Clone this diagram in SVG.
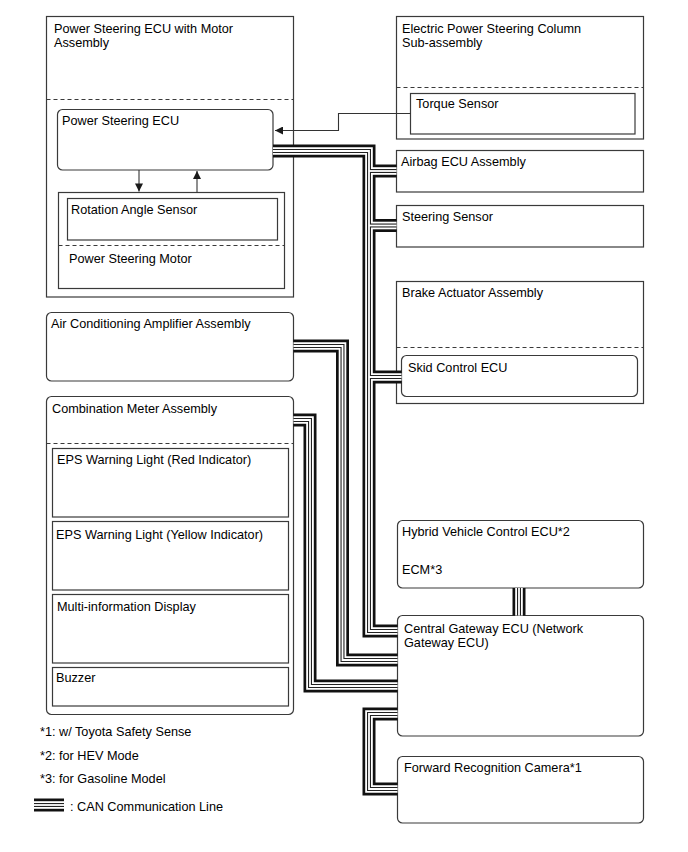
<svg xmlns="http://www.w3.org/2000/svg" xmlns:xlink="http://www.w3.org/1999/xlink" width="688" height="852" viewBox="0 0 688 852">
<style>
  text { font-family: "Liberation Sans", Arial, sans-serif; font-size: 12.7px; fill: #000; }
  .box { fill: #fff; stroke: #3a3a3a; stroke-width: 1.2; }
  .sub { fill: none; stroke: #3a3a3a; stroke-width: 1.2; }
  .dash { fill: none; stroke: #3a3a3a; stroke-width: 1.1; stroke-dasharray: 4 3; }
  .sig { fill: none; stroke: #333; stroke-width: 1.1; }
  .c1 { fill: none; stroke: #111; stroke-width: 13; stroke-linejoin: miter; }
  .c2 { fill: none; stroke: #fff; stroke-width: 7.6; stroke-linejoin: miter; }
  .c3 { fill: none; stroke: #222; stroke-width: 4; stroke-linejoin: miter; }
  .c4 { fill: none; stroke: #fff; stroke-width: 1.8; stroke-linejoin: miter; }
</style>
<defs>
  <marker id="arr" viewBox="0 0 10 10" refX="10" refY="5" markerWidth="9" markerHeight="8" markerUnits="userSpaceOnUse" orient="auto">
    <path d="M0,0 L10,5 L0,10 Z" fill="#1a1a1a"/>
  </marker>
  <path id="bus-main" d="M273,151 H369 V631 H397.5"/>
  <path id="bus-airbag" d="M369,171 H396.5"/>
  <path id="bus-steer" d="M369,225.5 H396.5"/>
  <path id="bus-skid" d="M369,377 H401.5"/>
  <path id="bus-ac" d="M293.5,346 H342.5 V660 H397.5"/>
  <path id="bus-meter" d="M293.5,420 H310 V686 H397.5"/>
  <path id="bus-hv" d="M519,588 V615.5"/>
  <path id="bus-cam" d="M397.5,714 H369 V789 H397.5"/>
</defs>

<g id="ps-assembly">
  <rect class="box" x="46.5" y="16.5" width="247" height="280.5"/>
  <line class="dash" x1="46.5" y1="99.5" x2="293.5" y2="99.5"/>
  <text x="54" y="32.5">Power Steering ECU with Motor</text>
  <text x="54" y="46.5">Assembly</text>
</g>
<g id="ps-ecu">
  <rect class="box" x="57.5" y="109.5" width="215.5" height="60.5" rx="5"/>
  <text x="62" y="125">Power Steering ECU</text>
</g>
<g id="ps-motor">
  <rect class="box" x="58.5" y="192.5" width="226" height="96"/>
  <line class="dash" x1="58.5" y1="245.5" x2="284.5" y2="245.5"/>
  <text x="69" y="263">Power Steering Motor</text>
</g>
<g id="rotation-angle-sensor">
  <rect class="sub" x="67.5" y="198.5" width="210" height="41.5"/>
  <text x="71" y="214">Rotation Angle Sensor</text>
</g>

<g id="eps-column">
  <rect class="box" x="396.5" y="16.5" width="247" height="122.5"/>
  <line class="dash" x1="396.5" y1="87.5" x2="643.5" y2="87.5"/>
  <text x="402" y="32.7">Electric Power Steering Column</text>
  <text x="402" y="46.7">Sub-assembly</text>
</g>
<g id="torque-sensor">
  <rect class="sub" x="410.5" y="93.5" width="224.5" height="40.5"/>
  <text x="416" y="108">Torque Sensor</text>
</g>
<g id="airbag-ecu">
  <rect class="box" x="396.5" y="150.5" width="247" height="41.5"/>
  <text x="401" y="166">Airbag ECU Assembly</text>
</g>
<g id="steering-sensor">
  <rect class="box" x="396.5" y="205.5" width="247" height="41.5"/>
  <text x="402" y="221">Steering Sensor</text>
</g>
<g id="brake-actuator">
  <rect class="box" x="396.5" y="281.5" width="247" height="122"/>
  <line class="dash" x1="396.5" y1="347.5" x2="643.5" y2="347.5"/>
  <text x="402" y="297">Brake Actuator Assembly</text>
</g>
<g id="skid-control-ecu">
  <rect class="box" x="401.5" y="355.5" width="236" height="41" rx="5"/>
  <text x="408" y="372">Skid Control ECU</text>
</g>

<g id="ac-amplifier">
  <rect class="box" x="46.5" y="312.5" width="247" height="68.5" rx="5"/>
  <text x="51" y="328">Air Conditioning Amplifier Assembly</text>
</g>
<g id="combination-meter">
  <rect class="box" x="46.5" y="396.5" width="247" height="318" rx="5"/>
  <line class="dash" x1="46.5" y1="443.5" x2="293.5" y2="443.5"/>
  <text x="52" y="413">Combination Meter Assembly</text>
</g>
<g id="eps-red">
  <rect class="sub" x="52.5" y="448.5" width="236" height="68.5"/>
  <text x="57" y="464">EPS Warning Light (Red Indicator)</text>
</g>
<g id="eps-yellow">
  <rect class="sub" x="52.5" y="521.5" width="236" height="68.5"/>
  <text x="56" y="539">EPS Warning Light (Yellow Indicator)</text>
</g>
<g id="multi-info">
  <rect class="sub" x="52.5" y="594.5" width="236" height="68.5"/>
  <text x="57" y="611">Multi-information Display</text>
</g>
<g id="buzzer">
  <rect class="sub" x="52.5" y="667.5" width="236" height="38.5"/>
  <text x="56" y="682">Buzzer</text>
</g>

<g id="hv-ecu">
  <rect class="box" x="397.5" y="520.5" width="246" height="67.5" rx="5"/>
  <text x="402" y="536">Hybrid Vehicle Control ECU*2</text>
  <text x="402" y="574">ECM*3</text>
</g>
<g id="central-gateway">
  <rect class="box" x="397.5" y="615.5" width="246" height="120.5" rx="5"/>
  <text x="404" y="632.7">Central Gateway ECU (Network</text>
  <text x="404" y="646.7">Gateway ECU)</text>
</g>
<g id="forward-camera">
  <rect class="box" x="397.5" y="756.5" width="246" height="66.5" rx="5"/>
  <text x="404" y="771.7">Forward Recognition Camera*1</text>
</g>

<g id="connectors">
  <path class="sig" d="M411,113.5 H338.5 V130.5 H275" marker-end="url(#arr)"/>
  <path class="sig" d="M139,170 V191.5" marker-end="url(#arr)"/>
  <path class="sig" d="M197,192.5 V171" marker-end="url(#arr)"/>
  <g class="c1">
    <use xlink:href="#bus-main"/><use xlink:href="#bus-airbag"/><use xlink:href="#bus-steer"/><use xlink:href="#bus-skid"/>
    <use xlink:href="#bus-ac"/><use xlink:href="#bus-meter"/><use xlink:href="#bus-hv"/><use xlink:href="#bus-cam"/>
  </g>
  <g class="c2">
    <use xlink:href="#bus-main"/><use xlink:href="#bus-airbag"/><use xlink:href="#bus-steer"/><use xlink:href="#bus-skid"/>
    <use xlink:href="#bus-ac"/><use xlink:href="#bus-meter"/><use xlink:href="#bus-hv"/><use xlink:href="#bus-cam"/>
  </g>
  <g class="c3">
    <use xlink:href="#bus-main"/><use xlink:href="#bus-airbag"/><use xlink:href="#bus-steer"/><use xlink:href="#bus-skid"/>
    <use xlink:href="#bus-ac"/><use xlink:href="#bus-meter"/><use xlink:href="#bus-hv"/><use xlink:href="#bus-cam"/>
  </g>
  <g class="c4">
    <use xlink:href="#bus-main"/><use xlink:href="#bus-airbag"/><use xlink:href="#bus-steer"/><use xlink:href="#bus-skid"/>
    <use xlink:href="#bus-ac"/><use xlink:href="#bus-meter"/><use xlink:href="#bus-hv"/><use xlink:href="#bus-cam"/>
  </g>
</g>

<g id="legend">
  <text x="40" y="736">*1: w/ Toyota Safety Sense</text>
  <text x="40" y="760">*2: for HEV Mode</text>
  <text x="40" y="783">*3: for Gasoline Model</text>
  <path class="c1" d="M34,805 H64"/>
  <path class="c2" d="M34,805 H64"/>
  <path class="c3" d="M34,805 H64"/>
  <path class="c4" d="M34,805 H64"/>
  <text x="70" y="811">: CAN Communication Line</text>
</g>
</svg>
